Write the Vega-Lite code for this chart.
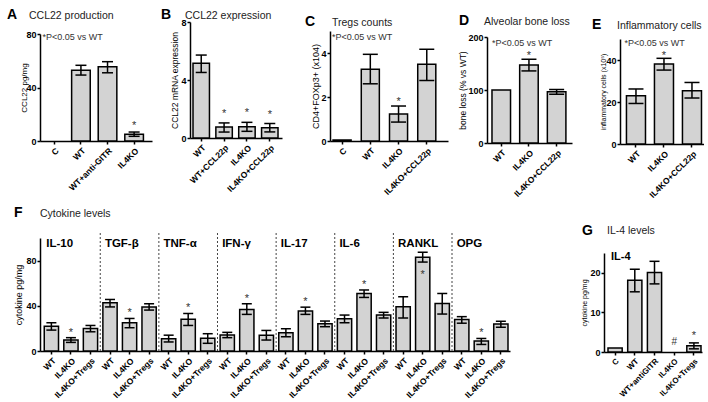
{
 "$schema": "https://vega.github.io/schema/vega-lite/v6.json",
 "padding": {"left": 7, "top": 7, "right": 0, "bottom": 0},
 "config": {
  "view": {"stroke": null},
  "font": "Liberation Sans",
  "axis": {"domainColor": "black", "domainWidth": 1.5, "tickColor": "black", "tickWidth": 1.5, "tickSize": 3, "labelColor": "black", "labelFontWeight": "bold", "labelFontSize": 9, "labelPadding": 1, "labelOverlap": false, "grid": false, "titleColor": "black", "titleFontWeight": "normal"},
  "axisX": {"labelAngle": -45, "labelFontSize": 8.5, "labelPadding": 2},
  "title": {"anchor": "start", "frame": "group", "fontSize": 10.5, "fontWeight": "normal", "color": "#222", "font": "Liberation Sans"}
 },
 "spacing": 7,
 "vconcat": [
  {
   "hconcat": [
    {
     "title": {"text": "A", "fontSize": 14, "fontWeight": "bold", "color": "black", "offset": -11.2, "dx": -33},
     "bounds": "flush", "spacing": 0,
     "vconcat": [
      {"width": 1, "height": 13, "data": {"values": [{}]}, "mark": {"type": "point", "opacity": 0}},
      {
       "width": 112, "height": 107,
       "title": {"text": "CCL22  production", "offset": 9, "dx": -11},
       "data": {"values": [
        {"s": "C", "m": 0},
        {"s": "WT", "m": 52.9, "lo": 49.3, "hi": 56.6},
        {"s": "WT+anti-GITR", "m": 55.6, "lo": 51, "hi": 59.3},
        {"s": "IL4KO", "m": 5, "lo": 3.5, "hi": 6.7, "sig": "*"}
       ]},
       "encoding": {"x": {"field": "s", "type": "nominal", "sort": null, "scale": {"domain": ["C", "WT", "WT+anti-GITR", "IL4KO"], "paddingInner": 0.3, "paddingOuter": 0.256, "align": 0.37}, "axis": {"title": null, "labelOverlap": false}}},
       "layer": [
        {"transform": [{"filter": "datum.m > 0"}], "mark": {"type": "bar", "fill": "#d3d3d3", "stroke": "black", "strokeWidth": 1.5}, "encoding": {"y": {"field": "m", "type": "quantitative", "scale": {"domain": [0, 80], "nice": false}, "axis": {"title": "CCL22 pg/mg", "values": [0, 20, 40, 60, 80], "labelOverlap": false, "titleFontSize": 8, "titlePadding": -3}}}},
        {"mark": {"type": "rule", "color": "black", "strokeWidth": 1.5}, "encoding": {"y": {"field": "lo", "type": "quantitative"}, "y2": {"field": "hi"}}},
        {"mark": {"type": "tick", "color": "black", "opacity": 1, "thickness": 1.5, "size": 11}, "encoding": {"y": {"field": "lo", "type": "quantitative"}}},
        {"mark": {"type": "tick", "color": "black", "opacity": 1, "thickness": 1.5, "size": 11}, "encoding": {"y": {"field": "hi", "type": "quantitative"}}},
        {"transform": [{"filter": "datum.sig"}], "mark": {"type": "text", "fontSize": 11, "baseline": "alphabetic", "dy": -3, "color": "#333"}, "encoding": {"y": {"field": "hi", "type": "quantitative"}, "text": {"field": "sig"}}},
        {"data": {"values": [{"t": "*P<0.05 vs WT"}]}, "mark": {"type": "text", "align": "left", "baseline": "middle", "fontSize": 9, "dx": -2.5, "color": "#333"}, "encoding": {"x": {"datum": "C", "bandPosition": 0}, "y": {"datum": 78}, "text": {"field": "t"}}}
       ]
      }
     ]
    },
    {
     "title": {"text": "B", "fontSize": 14, "fontWeight": "bold", "color": "black", "offset": -11.2, "dx": -29},
     "bounds": "flush", "spacing": 0,
     "vconcat": [
      {"width": 106, "height": 1, "data": {"values": [{}]}, "mark": {"type": "point", "opacity": 0}},
      {
       "width": 92, "height": 116,
       "title": {"text": "CCL22 expression", "offset": -3, "dx": -5},
       "data": {"values": [
        {"s": "WT", "m": 5.15, "lo": 4.52, "hi": 5.72},
        {"s": "WT+CCL22p", "m": 0.76, "lo": 0.41, "hi": 1.04, "sig": "*"},
        {"s": "IL4KO", "m": 0.78, "lo": 0.46, "hi": 1.08, "sig": "*"},
        {"s": "IL4KO+CCL22p", "m": 0.7, "lo": 0.42, "hi": 1.0, "sig": "*"}
       ]},
       "encoding": {"x": {"field": "s", "type": "nominal", "sort": null, "scale": {"domain": ["WT", "WT+CCL22p", "IL4KO", "IL4KO+CCL22p"], "paddingInner": 0.28, "paddingOuter": 0.153, "align": 0.43}, "axis": {"title": null, "labelOverlap": false}}},
       "layer": [
        {"mark": {"type": "bar", "fill": "#d3d3d3", "stroke": "black", "strokeWidth": 1.5}, "encoding": {"y": {"field": "m", "type": "quantitative", "scale": {"domain": [0, 8], "nice": false}, "axis": {"title": "CCL22 mRNA expression", "values": [0, 2, 4, 6, 8], "labelOverlap": false, "titleFontSize": 8.5, "titlePadding": 1}}}},
        {"mark": {"type": "rule", "color": "black", "strokeWidth": 1.5}, "encoding": {"y": {"field": "lo", "type": "quantitative"}, "y2": {"field": "hi"}}},
        {"mark": {"type": "tick", "color": "black", "opacity": 1, "thickness": 1.5, "size": 11}, "encoding": {"y": {"field": "lo", "type": "quantitative"}}},
        {"mark": {"type": "tick", "color": "black", "opacity": 1, "thickness": 1.5, "size": 11}, "encoding": {"y": {"field": "hi", "type": "quantitative"}}},
        {"transform": [{"filter": "datum.sig"}], "mark": {"type": "text", "fontSize": 11, "baseline": "alphabetic", "dy": -6, "color": "#333"}, "encoding": {"y": {"field": "hi", "type": "quantitative"}, "text": {"field": "sig"}}}
       ]
      }
     ]
    },
    {
     "title": {"text": "C", "fontSize": 14, "fontWeight": "bold", "color": "black", "offset": -11.2, "dx": -25},
     "bounds": "flush", "spacing": 0,
     "vconcat": [
      {"width": 119, "height": 10, "data": {"values": [{}]}, "mark": {"type": "point", "opacity": 0}},
      {
       "width": 118, "height": 110,
       "title": {"text": "Tregs counts", "offset": 3, "dx": 2},
       "data": {"values": [
        {"s": "C", "m": 0.05},
        {"s": "WT", "m": 3.26, "lo": 2.6, "hi": 3.94},
        {"s": "IL4KO", "m": 1.23, "lo": 0.86, "hi": 1.59, "sig": "*"},
        {"s": "IL4KO+CCL22p", "m": 3.49, "lo": 2.75, "hi": 4.17}
       ]},
       "encoding": {"x": {"field": "s", "type": "nominal", "sort": null, "scale": {"domain": ["C", "WT", "IL4KO", "IL4KO+CCL22p"], "paddingInner": 0.36, "paddingOuter": 0.27, "align": 0.2}, "axis": {"title": null, "labelOverlap": false}}},
       "layer": [
        {"mark": {"type": "bar", "fill": "#d3d3d3", "stroke": "black", "strokeWidth": 1.5}, "encoding": {"y": {"field": "m", "type": "quantitative", "scale": {"domain": [0, 5], "nice": false}, "axis": {"title": "CD4+FOXp3+ (x104)", "values": [0, 1, 2, 3, 4, 5], "labelOverlap": false, "titleFontSize": 9, "titlePadding": 0}}}},
        {"mark": {"type": "rule", "color": "black", "strokeWidth": 1.5}, "encoding": {"y": {"field": "lo", "type": "quantitative"}, "y2": {"field": "hi"}}},
        {"mark": {"type": "tick", "color": "black", "opacity": 1, "thickness": 1.5, "size": 15}, "encoding": {"y": {"field": "lo", "type": "quantitative"}}},
        {"mark": {"type": "tick", "color": "black", "opacity": 1, "thickness": 1.5, "size": 15}, "encoding": {"y": {"field": "hi", "type": "quantitative"}}},
        {"transform": [{"filter": "datum.sig"}], "mark": {"type": "text", "fontSize": 11, "baseline": "alphabetic", "dy": -1, "color": "#333"}, "encoding": {"y": {"field": "hi", "type": "quantitative"}, "text": {"field": "sig"}}},
        {"data": {"values": [{"t": "*P<0.05 vs WT"}]}, "mark": {"type": "text", "align": "left", "baseline": "middle", "fontSize": 9, "dx": -1, "color": "#333"}, "encoding": {"x": {"datum": "C", "bandPosition": 0}, "y": {"datum": 4.75}, "text": {"field": "t"}}}
       ]
      }
     ]
    },
    {
     "title": {"text": "D", "fontSize": 14, "fontWeight": "bold", "color": "black", "offset": -11.2, "dx": -28},
     "bounds": "flush", "spacing": 0,
     "vconcat": [
      {"width": 96, "height": 16, "data": {"values": [{}]}, "mark": {"type": "point", "opacity": 0}},
      {
       "width": 85, "height": 106,
       "title": {"text": "Alveolar bone loss", "offset": 6, "dx": -3},
       "data": {"values": [
        {"s": "WT", "m": 100},
        {"s": "IL4KO", "m": 147, "lo": 136, "hi": 158, "sig": "*"},
        {"s": "IL4KO+CCL22p", "m": 96.8, "lo": 92, "hi": 101}
       ]},
       "encoding": {"x": {"field": "s", "type": "nominal", "sort": null, "scale": {"domain": ["WT", "IL4KO", "IL4KO+CCL22p"], "paddingInner": 0.33, "paddingOuter": 0.2, "align": 0.45}, "axis": {"title": null, "labelOverlap": false}}},
       "layer": [
        {"mark": {"type": "bar", "fill": "#d3d3d3", "stroke": "black", "strokeWidth": 1.5}, "encoding": {"y": {"field": "m", "type": "quantitative", "scale": {"domain": [0, 200], "nice": false}, "axis": {"title": "bone loss (% vs WT)", "values": [0, 50, 100, 150, 200], "labelOverlap": false, "titleFontSize": 8.5, "titlePadding": 0}}}},
        {"mark": {"type": "rule", "color": "black", "strokeWidth": 1.5}, "encoding": {"y": {"field": "lo", "type": "quantitative"}, "y2": {"field": "hi"}}},
        {"mark": {"type": "tick", "color": "black", "opacity": 1, "thickness": 1.5, "size": 15}, "encoding": {"y": {"field": "lo", "type": "quantitative"}}},
        {"mark": {"type": "tick", "color": "black", "opacity": 1, "thickness": 1.5, "size": 15}, "encoding": {"y": {"field": "hi", "type": "quantitative"}}},
        {"transform": [{"filter": "datum.sig"}], "mark": {"type": "text", "fontSize": 11, "baseline": "alphabetic", "dy": 0, "color": "#333"}, "encoding": {"y": {"field": "hi", "type": "quantitative"}, "text": {"field": "sig"}}},
        {"data": {"values": [{"t": "*P<0.05 vs WT"}]}, "mark": {"type": "text", "align": "left", "baseline": "middle", "fontSize": 9, "dx": 0, "color": "#333"}, "encoding": {"x": {"datum": "WT", "bandPosition": 0}, "y": {"datum": 189}, "text": {"field": "t"}}}
       ]
      }
     ]
    },
    {
     "title": {"text": "E", "fontSize": 14, "fontWeight": "bold", "color": "black", "offset": -11.2, "dx": -28},
     "bounds": "flush", "spacing": 0,
     "vconcat": [
      {"width": 1, "height": 18, "data": {"values": [{}]}, "mark": {"type": "point", "opacity": 0}},
      {
       "width": 84, "height": 105,
       "title": {"text": "Inflammatory cells", "offset": 8, "dx": -3},
       "data": {"values": [
        {"s": "WT", "m": 23, "lo": 19.3, "hi": 26.2},
        {"s": "IL4KO", "m": 38.1, "lo": 35.2, "hi": 40.8, "sig": "*"},
        {"s": "IL4KO+CCL22p", "m": 25.4, "lo": 21.9, "hi": 29.3}
       ]},
       "encoding": {"x": {"field": "s", "type": "nominal", "sort": null, "scale": {"domain": ["WT", "IL4KO", "IL4KO+CCL22p"], "paddingInner": 0.32, "paddingOuter": 0.16, "align": 0.72}, "axis": {"title": null, "labelOverlap": false}}},
       "layer": [
        {"mark": {"type": "bar", "fill": "#d3d3d3", "stroke": "black", "strokeWidth": 1.5}, "encoding": {"y": {"field": "m", "type": "quantitative", "scale": {"domain": [0, 50], "nice": false}, "axis": {"title": "inflammatory cells (x10⁵)", "values": [0, 10, 20, 30, 40, 50], "labelOverlap": false, "titleFontSize": 7, "titlePadding": -1}}}},
        {"mark": {"type": "rule", "color": "black", "strokeWidth": 1.5}, "encoding": {"y": {"field": "lo", "type": "quantitative"}, "y2": {"field": "hi"}}},
        {"mark": {"type": "tick", "color": "black", "opacity": 1, "thickness": 1.5, "size": 15}, "encoding": {"y": {"field": "lo", "type": "quantitative"}}},
        {"mark": {"type": "tick", "color": "black", "opacity": 1, "thickness": 1.5, "size": 15}, "encoding": {"y": {"field": "hi", "type": "quantitative"}}},
        {"transform": [{"filter": "datum.sig"}], "mark": {"type": "text", "fontSize": 11, "baseline": "alphabetic", "dy": 1, "color": "#333"}, "encoding": {"y": {"field": "hi", "type": "quantitative"}, "text": {"field": "sig"}}},
        {"data": {"values": [{"t": "*P<0.05 vs WT"}]}, "mark": {"type": "text", "align": "left", "baseline": "middle", "fontSize": 9, "dx": -2, "color": "#333"}, "encoding": {"x": {"datum": "WT", "bandPosition": 0}, "y": {"datum": 47.9}, "text": {"field": "t"}}}
       ]
      }
     ]
    }
   ],
   "spacing": 9
  },
  {
   "hconcat": [
    {
     "title": {"text": "F", "fontSize": 14, "fontWeight": "bold", "color": "black", "offset": -11.2, "dx": -26},
     "bounds": "flush", "spacing": 0,
     "vconcat": [
      {"width": 1, "height": 1, "data": {"values": [{}]}, "mark": {"type": "point", "opacity": 0}},
      {
       "width": 470, "height": 113,
       "title": {"text": "Cytokine levels", "offset": 11, "dx": 0},
       "data": {"values": [
        {"g": "IL-10", "s": "WT", "k": "IL-10|WT", "m": 22, "lo": 18.5, "hi": 25},
        {"g": "IL-10", "s": "IL4KO", "k": "IL-10|IL4KO", "m": 9.7, "lo": 7.6, "hi": 11.8, "sig": "*"},
        {"g": "IL-10", "s": "IL4KO+Tregs", "k": "IL-10|IL4KO+Tregs", "m": 20, "lo": 17, "hi": 22.6},
        {"g": "TGF-β", "s": "WT", "k": "TGF-β|WT", "m": 42.6, "lo": 39, "hi": 45.6},
        {"g": "TGF-β", "s": "IL4KO", "k": "TGF-β|IL4KO", "m": 25, "lo": 20.6, "hi": 28.8, "sig": "*"},
        {"g": "TGF-β", "s": "IL4KO+Tregs", "k": "TGF-β|IL4KO+Tregs", "m": 39, "lo": 36.2, "hi": 41.8},
        {"g": "TNF-α", "s": "WT", "k": "TNF-α|WT", "m": 10.9, "lo": 8, "hi": 14},
        {"g": "TNF-α", "s": "IL4KO", "k": "TNF-α|IL4KO", "m": 28, "lo": 22.6, "hi": 33.2, "sig": "*"},
        {"g": "TNF-α", "s": "IL4KO+Tregs", "k": "TNF-α|IL4KO+Tregs", "m": 11.2, "lo": 6.8, "hi": 15.3},
        {"g": "IFN-γ", "s": "WT", "k": "IFN-γ|WT", "m": 14.1, "lo": 11.8, "hi": 16.5},
        {"g": "IFN-γ", "s": "IL4KO", "k": "IFN-γ|IL4KO", "m": 36.8, "lo": 32.4, "hi": 41.8, "sig": "*"},
        {"g": "IFN-γ", "s": "IL4KO+Tregs", "k": "IFN-γ|IL4KO+Tregs", "m": 14, "lo": 9.7, "hi": 18.2},
        {"g": "IL-17", "s": "WT", "k": "IL-17|WT", "m": 16.2, "lo": 12.6, "hi": 19.7},
        {"g": "IL-17", "s": "IL4KO", "k": "IL-17|IL4KO", "m": 35.3, "lo": 32.4, "hi": 38.8, "sig": "*"},
        {"g": "IL-17", "s": "IL4KO+Tregs", "k": "IL-17|IL4KO+Tregs", "m": 24.1, "lo": 21.5, "hi": 26.5},
        {"g": "IL-6", "s": "WT", "k": "IL-6|WT", "m": 28.5, "lo": 25, "hi": 31.8},
        {"g": "IL-6", "s": "IL4KO", "k": "IL-6|IL4KO", "m": 50.9, "lo": 47.4, "hi": 54, "sig": "*"},
        {"g": "IL-6", "s": "IL4KO+Tregs", "k": "IL-6|IL4KO+Tregs", "m": 31.9, "lo": 29.2, "hi": 34.2},
        {"g": "RANKL", "s": "WT", "k": "RANKL|WT", "m": 39.2, "lo": 29.2, "hi": 48},
        {"g": "RANKL", "s": "IL4KO", "k": "RANKL|IL4KO", "m": 83, "lo": 78.7, "hi": 87.4, "sig": "*"},
        {"g": "RANKL", "s": "IL4KO+Tregs", "k": "RANKL|IL4KO+Tregs", "m": 42, "lo": 32.7, "hi": 50.9},
        {"g": "OPG", "s": "WT", "k": "OPG|WT", "m": 27.8, "lo": 24.6, "hi": 30.4},
        {"g": "OPG", "s": "IL4KO", "k": "OPG|IL4KO", "m": 8.8, "lo": 5.8, "hi": 11.1, "sig": "*"},
        {"g": "OPG", "s": "IL4KO+Tregs", "k": "OPG|IL4KO+Tregs", "m": 24, "lo": 21, "hi": 26.3}
       ]},
       "encoding": {"x": {"field": "k", "type": "nominal", "sort": null, "scale": {"paddingInner": 0.27, "paddingOuter": 0.16, "align": 0.68}, "axis": {"title": null, "labelOverlap": false, "labelExpr": "split(datum.label, '|')[1]"}}},
       "layer": [
        {"mark": {"type": "bar", "fill": "#d3d3d3", "stroke": "black", "strokeWidth": 1.5}, "encoding": {"y": {"field": "m", "type": "quantitative", "scale": {"domain": [0, 100], "nice": false}, "axis": {"title": "cytokine pg/mg", "values": [0, 20, 40, 60, 80, 100], "labelOverlap": false, "titleFontSize": 9, "titlePadding": 2}}}},
        {"mark": {"type": "rule", "color": "black", "strokeWidth": 1.5}, "encoding": {"y": {"field": "lo", "type": "quantitative"}, "y2": {"field": "hi"}}},
        {"mark": {"type": "tick", "color": "black", "opacity": 1, "thickness": 1.5, "size": 10}, "encoding": {"y": {"field": "lo", "type": "quantitative"}}},
        {"mark": {"type": "tick", "color": "black", "opacity": 1, "thickness": 1.5, "size": 10}, "encoding": {"y": {"field": "hi", "type": "quantitative"}}},
        {"transform": [{"filter": "datum.sig && datum.hi <= 80"}], "mark": {"type": "text", "fontSize": 11, "baseline": "alphabetic", "dy": -2, "color": "#333"}, "encoding": {"y": {"field": "hi", "type": "quantitative"}, "text": {"field": "sig"}}},
        {"transform": [{"filter": "datum.sig && datum.hi > 80"}], "mark": {"type": "text", "fontSize": 11, "baseline": "alphabetic", "dy": 16, "color": "#333"}, "encoding": {"y": {"field": "lo", "type": "quantitative"}, "text": {"field": "sig"}}},
        {"transform": [{"filter": "datum.s == 'IL4KO+Tregs' && datum.g != 'OPG'"}], "mark": {"type": "rule", "color": "#444", "strokeWidth": 1, "strokeDash": [2, 2]}, "encoding": {"x": {"field": "k", "type": "nominal", "bandPosition": 1.185}, "y": {"datum": 0}, "y2": {"datum": 106}}},
        {"transform": [{"filter": "datum.s == 'WT'"}], "mark": {"type": "text", "align": "left", "baseline": "middle", "fontSize": 11.5, "fontWeight": "bold", "dx": 2, "color": "black"}, "encoding": {"x": {"field": "k", "type": "nominal", "bandPosition": 0}, "y": {"datum": 95}, "text": {"field": "g"}}}
       ]
      }
     ]
    },
    {
     "title": {"text": "G", "fontSize": 14, "fontWeight": "bold", "color": "black", "offset": -11.2, "dx": -22},
     "bounds": "flush", "spacing": 0,
     "vconcat": [
      {"width": 1, "height": 16, "data": {"values": [{}]}, "mark": {"type": "point", "opacity": 0}},
      {
       "width": 98, "height": 99,
       "title": {"text": "IL-4 levels", "offset": 14, "dx": 3},
       "data": {"values": [
        {"s": "C", "m": 1.0},
        {"s": "WT", "m": 18.1, "lo": 15.2, "hi": 20.9},
        {"s": "WT+antiGITR", "m": 20.1, "lo": 17.2, "hi": 22.9},
        {"s": "IL4KO", "m": 0, "sig": "#"},
        {"s": "IL4KO+Tregs", "m": 1.6, "lo": 0.8, "hi": 2.3, "sig": "*"}
       ]},
       "encoding": {"x": {"field": "s", "type": "nominal", "sort": null, "scale": {"domain": ["C", "WT", "WT+antiGITR", "IL4KO", "IL4KO+Tregs"], "paddingInner": 0.28, "paddingOuter": 0.127, "align": 0.8}, "axis": {"title": null, "labelOverlap": false, "labelFontSize": 8}}},
       "layer": [
        {"transform": [{"filter": "datum.m > 0"}], "mark": {"type": "bar", "fill": "#d3d3d3", "stroke": "black", "strokeWidth": 1.5}, "encoding": {"y": {"field": "m", "type": "quantitative", "scale": {"domain": [0, 25], "nice": false}, "axis": {"title": "cytokine pg/mg", "values": [0, 5, 10, 15, 20, 25], "labelOverlap": false, "titleFontSize": 7, "titlePadding": 2}}}},
        {"mark": {"type": "rule", "color": "black", "strokeWidth": 1.5}, "encoding": {"y": {"field": "lo", "type": "quantitative"}, "y2": {"field": "hi"}}},
        {"mark": {"type": "tick", "color": "black", "opacity": 1, "thickness": 1.5, "size": 10}, "encoding": {"y": {"field": "lo", "type": "quantitative"}}},
        {"mark": {"type": "tick", "color": "black", "opacity": 1, "thickness": 1.5, "size": 10}, "encoding": {"y": {"field": "hi", "type": "quantitative"}}},
        {"transform": [{"filter": "datum.sig && datum.hi != null"}], "mark": {"type": "text", "fontSize": 11, "baseline": "alphabetic", "dy": -4, "color": "#333"}, "encoding": {"y": {"field": "hi", "type": "quantitative"}, "text": {"field": "sig"}}},
        {"transform": [{"filter": "datum.sig && datum.hi == null"}], "mark": {"type": "text", "fontSize": 10, "baseline": "alphabetic", "dy": -7, "color": "#333"}, "encoding": {"y": {"field": "m", "type": "quantitative"}, "text": {"field": "sig"}}},
        {"data": {"values": [{"t": "IL-4"}]}, "mark": {"type": "text", "align": "left", "baseline": "middle", "fontSize": 11, "fontWeight": "bold", "dx": 3, "color": "black"}, "encoding": {"x": {"datum": "C", "bandPosition": 0}, "y": {"datum": 24}, "text": {"field": "t"}}}
       ]
      }
     ]
    }
   ],
   "spacing": 70
  }
 ]
}
